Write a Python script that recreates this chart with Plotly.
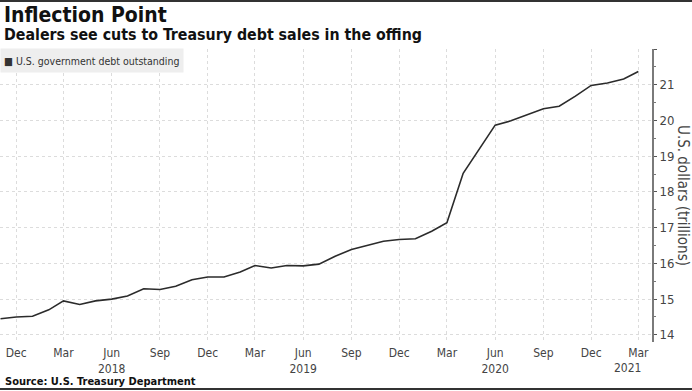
import plotly.graph_objects as go
import pandas as pd

# ---- data ----
months = pd.date_range("2017-11-01", "2021-03-01", freq="MS").strftime("%Y-%m-%d").tolist()
debt_trillions = [
    14.45, 14.50,
    14.52, 14.70, 14.95, 14.85, 14.95, 15.00, 15.09, 15.29, 15.27, 15.36, 15.54, 15.62,
    15.62, 15.76, 15.94, 15.87, 15.94, 15.93, 15.98, 16.20, 16.39, 16.51, 16.62, 16.67,
    16.69, 16.90, 17.14, 18.52, 19.20, 19.87, 19.99, 20.16, 20.33, 20.40, 20.68, 20.98,
    21.05, 21.16, 21.37,
]
x_tick_vals = ["2017-12-01", "2018-03-01", "2018-06-01", "2018-09-01", "2018-12-01",
               "2019-03-01", "2019-06-01", "2019-09-01", "2019-12-01", "2020-03-01",
               "2020-06-01", "2020-09-01", "2020-12-01", "2021-03-01"]
x_tick_text = ["Dec", "Mar", "Jun<br>2018", "Sep", "Dec", "Mar", "Jun<br>2019", "Sep",
               "Dec", "Mar", "Jun<br>2020", "Sep", "Dec", "Mar"]
y_tick_vals = [14, 15, 16, 17, 18, 19, 20, 21, 22]
y_tick_text = ["14", "15", "16", "17", "18", "19", "20", "21", ""]

title = "Inflection Point"
subtitle = "Dealers see cuts to Treasury debt sales in the offing"
series_name = "U.S. government debt outstanding"
source = "Source: U.S. Treasury Department"

W, H = 692, 391
ML, MR, MT, MB = 0, 40, 49, 49
PH = H - MT - MB

def py(pix):  # pixel row -> paper y
    return (H - MB - pix) / PH

def px(pix):
    return (pix - ML) / (W - ML - MR)

TITLE_FONT = "DejaVu Sans Condensed, DejaVu Sans, sans-serif"
TICK_FONT = "DejaVu Sans Condensed, DejaVu Sans, sans-serif"

fig = go.Figure()
fig.add_trace(go.Scatter(
    x=months, y=debt_trillions, mode="lines", name=series_name,
    line=dict(color="#2b2b2b", width=1.6), showlegend=False,
))

fig.update_layout(
    width=W, height=H,
    margin=dict(l=ML, r=MR, t=MT, b=MB),
    paper_bgcolor="white", plot_bgcolor="white",
    xaxis=dict(
        range=["2017-10-31", "2021-03-27"],
        tickmode="array", tickvals=x_tick_vals, ticktext=x_tick_text,
        showgrid=True, gridcolor="#dcdcdc", griddash="dot", gridwidth=1,
        showline=False, zeroline=False, ticks="", ticklabelstandoff=2,
        tickfont=dict(family=TICK_FONT, size=12, color="#444"),
    ),
    yaxis=dict(
        side="right", range=[13.8, 22],
        tickmode="array", tickvals=y_tick_vals, ticktext=y_tick_text,
        showgrid=True, gridcolor="#dcdcdc", griddash="dot", gridwidth=1,
        showline=True, linecolor="#7a7a7a", linewidth=2, zeroline=False,
        ticks="outside", ticklen=3, tickcolor="#555", tickwidth=1,
        minor=dict(dtick=0.5, tick0=14, ticks="outside", ticklen=2, tickcolor="#777", showgrid=False),
        tickfont=dict(family=TICK_FONT, size=13, color="#444"),
    ),
)

annotations = [
    dict(text=title, x=px(2), y=py(15), xref="paper", yref="paper", xanchor="left", yanchor="middle",
         showarrow=False, font=dict(family=TITLE_FONT, size=21, color="#111", weight="bold")),
    dict(text=subtitle, x=px(2), y=py(35), xref="paper", yref="paper", xanchor="left", yanchor="middle",
         showarrow=False, font=dict(family=TITLE_FONT, size=15.8, color="#111", weight="bold")),
    dict(text="■ " + series_name, x=0, y=py(48), xref="paper", yref="paper", xanchor="left", yanchor="top",
         showarrow=False, align="left", width=176, height=17, bgcolor="#eeeeee", borderpad=3,
         font=dict(family=TICK_FONT, size=10.5, color="#333")),
    dict(text="U.S. dollars (trillions)", x=px(683), y=py(195), xref="paper", yref="paper",
         xanchor="center", yanchor="middle", textangle=90, showarrow=False,
         font=dict(family=TICK_FONT, size=15, color="#444")),
    dict(text="2021", x="2021-02-09", y=py(368.5), xref="x", yref="paper", xanchor="center", yanchor="middle",
         showarrow=False, font=dict(family=TICK_FONT, size=12, color="#444")),
    dict(text=source, x=px(3), y=py(381), xref="paper", yref="paper", xanchor="left", yanchor="middle",
         showarrow=False, font=dict(family=TITLE_FONT, size=11, color="#111", weight="bold")),
]
fig.update_layout(annotations=annotations)

fig.add_shape(type="line", xref="paper", yref="paper", x0=px(0), x1=px(W), y0=py(1), y1=py(1),
              line=dict(color="#333", width=2))
fig.add_shape(type="line", xref="paper", yref="paper", x0=px(0), x1=px(W), y0=py(389), y1=py(389),
              line=dict(color="#333", width=2))

fig.write_html(
    "out.html",
    config={"displayModeBar": False},
    post_script="document.body.style.margin='0';document.body.style.padding='0';document.body.style.overflow='hidden';",
)
